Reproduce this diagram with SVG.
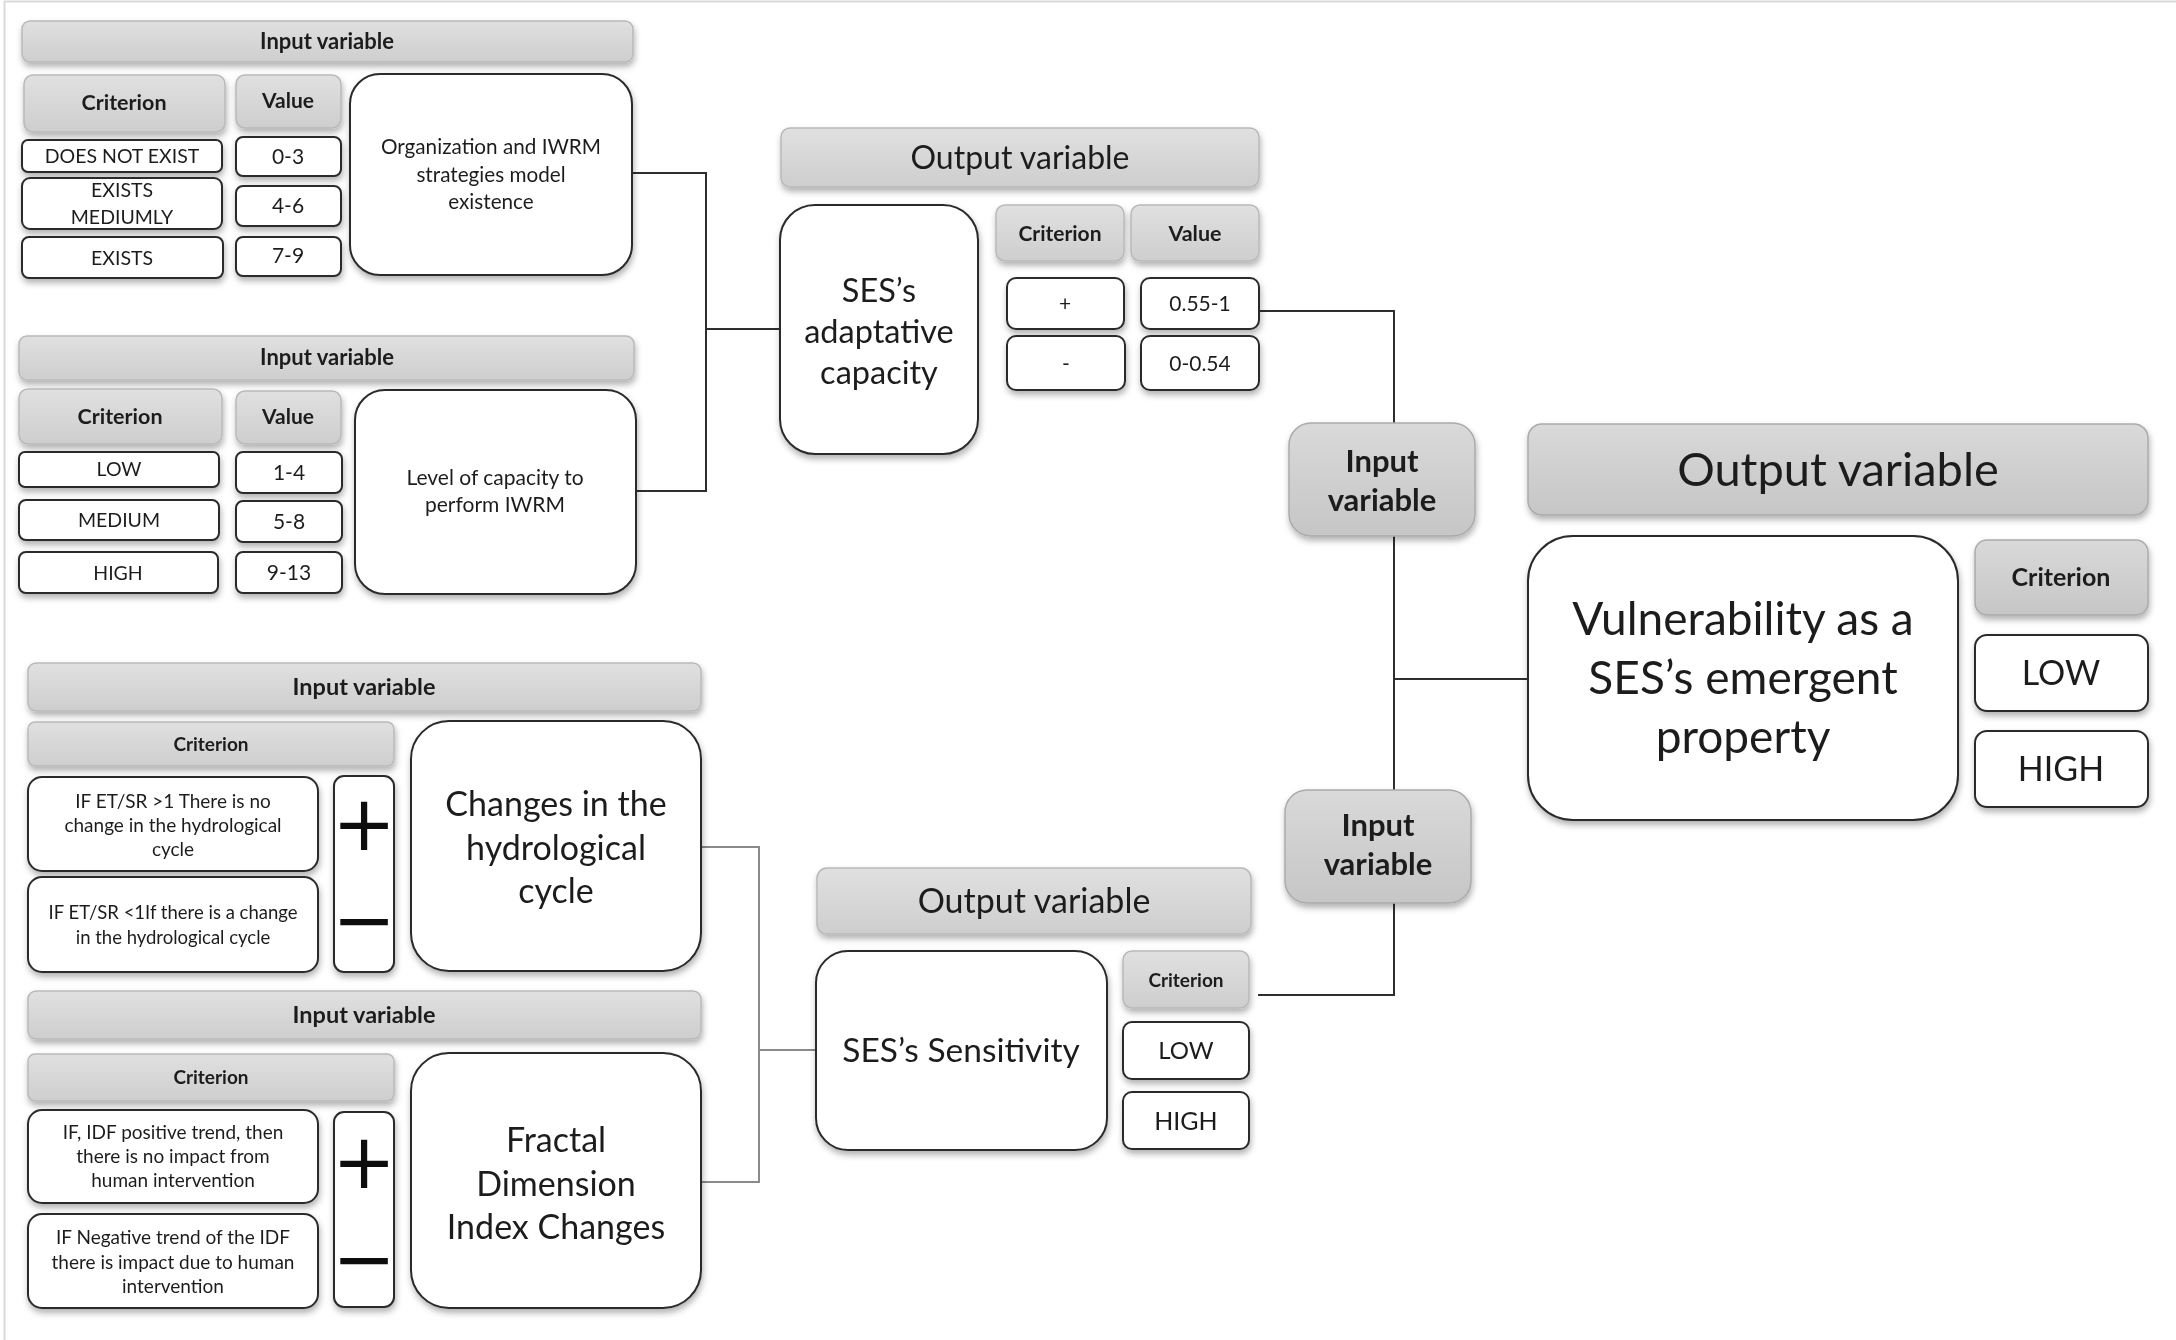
<svg xmlns="http://www.w3.org/2000/svg" width="2176" height="1340" viewBox="0 0 2176 1340">
<style>
text{font-family:Lato,"Open Sans","Liberation Sans",sans-serif;fill:#1e1e1e;text-anchor:middle}
.hd{fill:url(#g);stroke:#b9b9b9;stroke-width:1.5}
.hd2{fill:url(#g2);stroke:#aaaaaa;stroke-width:1.5}
.bx{fill:#fff;stroke:#2b2b2b;stroke-width:2}
.b{font-weight:bold}
.c{fill:none;stroke:#2e2e2e;stroke-width:2}
.c2{fill:none;stroke:#8a8a8a;stroke-width:2}
.sg{font-family:"DejaVu Sans",sans-serif;font-size:76px;fill:#111}
</style>
<defs>
<linearGradient id="g" x1="0" y1="0" x2="0" y2="1"><stop offset="0" stop-color="#e0e0e0"/><stop offset="1" stop-color="#cecece"/></linearGradient>
<linearGradient id="g2" x1="0" y1="0" x2="0" y2="1"><stop offset="0" stop-color="#d9d9d9"/><stop offset="1" stop-color="#c6c6c6"/></linearGradient>
<filter id="sh" x="-10%" y="-10%" width="120%" height="130%"><feDropShadow dx="1" dy="4" stdDeviation="3" flood-color="#000" flood-opacity="0.3"/></filter>
</defs>
<rect width="2176" height="1340" fill="#fff"/>
<path d="M4.5,1340 V1.5 H2176" fill="none" stroke="#d9d9d9" stroke-width="2"/>

<g id="connectors">
<path class="c" d="M632,173 H706 V491 H636 M706,329 H780"/>
<path class="c" d="M1259,311 H1394 V995 H1258 M1394,679 H1528"/>
<path class="c2" d="M701,847 H759 V1182 H701 M759,1050 H816"/>
</g>

<g id="input-organization" filter="url(#sh)">
<rect class="hd" x="22" y="21" width="611" height="41" rx="8"/>
<text class="b" x="327" y="49" font-size="22">Input variable</text>
<rect class="hd" x="24" y="75" width="201" height="57" rx="9"/>
<text class="b" x="124" y="110" font-size="21.5">Criterion</text>
<rect class="hd" x="236" y="75" width="105" height="53" rx="9"/>
<text class="b" x="288" y="108" font-size="21">Value</text>
<rect class="bx" x="350" y="74" width="282" height="201" rx="30"/>
<text x="491" y="154" font-size="20.7">Organization and IWRM</text>
<text x="491" y="182" font-size="20.7">strategies model</text>
<text x="491" y="209" font-size="20.7">existence</text>
<rect class="bx" x="22" y="140" width="200" height="32" rx="6"/>
<text x="122" y="163" font-size="19.5">DOES NOT EXIST</text>
<rect class="bx" x="22" y="178" width="200" height="51" rx="8"/>
<text x="122" y="197" font-size="19.5">EXISTS</text>
<text x="122" y="224" font-size="19.5">MEDIUMLY</text>
<rect class="bx" x="22" y="237" width="201" height="41" rx="7"/>
<text x="122" y="265" font-size="19.5">EXISTS</text>
<rect class="bx" x="236" y="137" width="105" height="39" rx="7"/>
<text x="288" y="164" font-size="21">0-3</text>
<rect class="bx" x="236" y="186" width="105" height="40" rx="7"/>
<text x="288" y="213" font-size="21">4-6</text>
<rect class="bx" x="236" y="237" width="105" height="39" rx="7"/>
<text x="288" y="263" font-size="21">7-9</text>
</g>

<g id="input-capacity" filter="url(#sh)">
<rect class="hd" x="19" y="336" width="615" height="44" rx="8"/>
<text class="b" x="327" y="365" font-size="22">Input variable</text>
<rect class="hd" x="19" y="389" width="203" height="55" rx="9"/>
<text class="b" x="120" y="424" font-size="21.5">Criterion</text>
<rect class="hd" x="236" y="391" width="105" height="53" rx="9"/>
<text class="b" x="288" y="424" font-size="21">Value</text>
<rect class="bx" x="355" y="390" width="281" height="204" rx="30"/>
<text x="495" y="485" font-size="21">Level of capacity to</text>
<text x="495" y="512" font-size="21">perform IWRM</text>
<rect class="bx" x="19" y="452" width="200" height="35" rx="6"/>
<text x="119" y="476" font-size="19.5">LOW</text>
<rect class="bx" x="19" y="500" width="200" height="40" rx="7"/>
<text x="119" y="527" font-size="19.5">MEDIUM</text>
<rect class="bx" x="19" y="552" width="199" height="41" rx="7"/>
<text x="118" y="580" font-size="19.5">HIGH</text>
<rect class="bx" x="236" y="452" width="106" height="41" rx="7"/>
<text x="289" y="480" font-size="21">1-4</text>
<rect class="bx" x="236" y="501" width="106" height="41" rx="7"/>
<text x="289" y="529" font-size="21">5-8</text>
<rect class="bx" x="236" y="552" width="106" height="41" rx="7"/>
<text x="289" y="580" font-size="21">9-13</text>
</g>

<g id="output-adaptive" filter="url(#sh)">
<rect class="hd" x="781" y="128" width="478" height="59" rx="9"/>
<text x="1020" y="169" font-size="32">Output variable</text>
<rect class="bx" x="780" y="205" width="198" height="249" rx="35"/>
<text x="879" y="302" font-size="32.5">SES’s</text>
<text x="879" y="343" font-size="32.5">adaptative</text>
<text x="879" y="384" font-size="32.5">capacity</text>
<rect class="hd" x="996" y="205" width="128" height="56" rx="9"/>
<text class="b" x="1060" y="241" font-size="21">Criterion</text>
<rect class="hd" x="1131" y="205" width="128" height="56" rx="9"/>
<text class="b" x="1195" y="241" font-size="21.5">Value</text>
<rect class="bx" x="1007" y="278" width="117" height="51" rx="9"/>
<text x="1065" y="311" font-size="21">+</text>
<rect class="bx" x="1007" y="336" width="118" height="54" rx="9"/>
<text x="1066" y="371" font-size="21">-</text>
<rect class="bx" x="1141" y="278" width="118" height="51" rx="9"/>
<text x="1200" y="311" font-size="21">0.55-1</text>
<rect class="bx" x="1141" y="336" width="118" height="54" rx="9"/>
<text x="1200" y="371" font-size="21">0-0.54</text>
</g>

<g id="input-var-upper" filter="url(#sh)">
<rect class="hd2" x="1289" y="423" width="186" height="113" rx="22"/>
<text class="b" x="1382" y="472" font-size="31">Input</text>
<text class="b" x="1382" y="511" font-size="31">variable</text>
</g>

<g id="input-var-lower" filter="url(#sh)">
<rect class="hd2" x="1285" y="790" width="186" height="113" rx="22"/>
<text class="b" x="1378" y="836" font-size="31">Input</text>
<text class="b" x="1378" y="875" font-size="31">variable</text>
</g>

<g id="output-vulnerability" filter="url(#sh)">
<rect class="hd2" x="1528" y="424" width="620" height="91" rx="14"/>
<text x="1838" y="486" font-size="47">Output variable</text>
<rect class="bx" x="1528" y="536" width="430" height="284" rx="45"/>
<text x="1743" y="635" font-size="46">Vulnerability as a</text>
<text x="1743" y="694" font-size="46">SES’s emergent</text>
<text x="1743" y="753" font-size="46">property</text>
<rect class="hd2" x="1975" y="540" width="173" height="75" rx="12"/>
<text class="b" x="2061" y="586" font-size="25">Criterion</text>
<rect class="bx" x="1975" y="635" width="173" height="76" rx="12"/>
<text x="2061" y="685" font-size="34">LOW</text>
<rect class="bx" x="1975" y="731" width="173" height="76" rx="12"/>
<text x="2061" y="781" font-size="34">HIGH</text>
</g>

<g id="input-hydrological" filter="url(#sh)">
<rect class="hd" x="28" y="663" width="673" height="48" rx="8"/>
<text class="b" x="364" y="695" font-size="23.5">Input variable</text>
<rect class="hd" x="28" y="722" width="366" height="44" rx="7"/>
<text class="b" x="211" y="751" font-size="19">Criterion</text>
<rect class="bx" x="28" y="777" width="290" height="94" rx="14"/>
<text x="173" y="808" font-size="19">IF ET/SR &gt;1 There is no</text>
<text x="173" y="832" font-size="19">change in the hydrological</text>
<text x="173" y="856" font-size="19">cycle</text>
<rect class="bx" x="28" y="877" width="290" height="95" rx="14"/>
<text x="173" y="919" font-size="18.5">IF ET/SR &lt;1If there is a change</text>
<text x="173" y="944" font-size="18.5">in the hydrological cycle</text>
<rect class="bx" x="334" y="776" width="60" height="196" rx="10"/>
<text class="sg" x="364" y="850">+</text>
<text class="sg" x="364" y="946">−</text>
<rect class="bx" x="411" y="721" width="290" height="250" rx="38"/>
<text x="556" y="816" font-size="34">Changes in the</text>
<text x="556" y="860" font-size="34">hydrological</text>
<text x="556" y="903" font-size="34">cycle</text>
</g>

<g id="input-fractal" filter="url(#sh)">
<rect class="hd" x="28" y="991" width="673" height="48" rx="8"/>
<text class="b" x="364" y="1023" font-size="23.5">Input variable</text>
<rect class="hd" x="28" y="1054" width="366" height="47" rx="7"/>
<text class="b" x="211" y="1084" font-size="19">Criterion</text>
<rect class="bx" x="28" y="1110" width="290" height="93" rx="14"/>
<text x="173" y="1139" font-size="19">IF, IDF positive trend, then</text>
<text x="173" y="1163" font-size="19">there is no impact from</text>
<text x="173" y="1187" font-size="19">human intervention</text>
<rect class="bx" x="28" y="1214" width="290" height="94" rx="14"/>
<text x="173" y="1244" font-size="19">IF Negative trend of the IDF</text>
<text x="173" y="1269" font-size="19">there is impact due to human</text>
<text x="173" y="1293" font-size="19">intervention</text>
<rect class="bx" x="334" y="1112" width="60" height="195" rx="10"/>
<text class="sg" x="364" y="1188">+</text>
<text class="sg" x="364" y="1285">−</text>
<rect class="bx" x="411" y="1053" width="290" height="255" rx="38"/>
<text x="556" y="1152" font-size="34">Fractal</text>
<text x="556" y="1196" font-size="34">Dimension</text>
<text x="556" y="1239" font-size="34">Index Changes</text>
</g>

<g id="output-sensitivity" filter="url(#sh)">
<rect class="hd" x="817" y="868" width="434" height="66" rx="10"/>
<text x="1034" y="913" font-size="34">Output variable</text>
<rect class="bx" x="816" y="951" width="291" height="199" rx="32"/>
<text x="961" y="1062" font-size="33.5">SES’s Sensitivity</text>
<rect class="hd" x="1123" y="951" width="126" height="57" rx="9"/>
<text class="b" x="1186" y="987" font-size="19">Criterion</text>
<rect class="bx" x="1123" y="1022" width="126" height="57" rx="9"/>
<text x="1186" y="1059" font-size="24">LOW</text>
<rect class="bx" x="1123" y="1092" width="126" height="57" rx="9"/>
<text x="1186" y="1130" font-size="25">HIGH</text>
</g>
</svg>
